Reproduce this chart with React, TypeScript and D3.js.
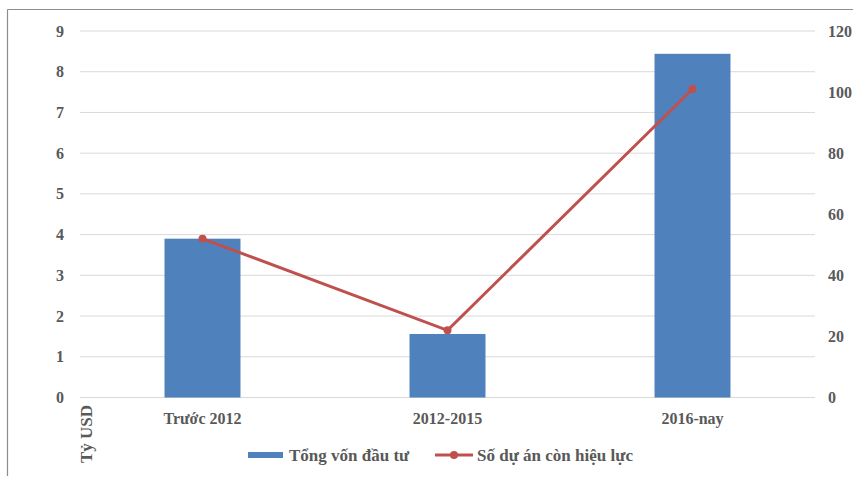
import { useEffect, useRef } from "react"
import * as d3 from "d3"

const categories = ["Trước 2012", "2012-2015", "2016-nay"]
const capital = [3.9, 1.56, 8.44] // Tỷ USD
const projects = [52, 22, 101]
const leftTicks = [0, 1, 2, 3, 4, 5, 6, 7, 8, 9]
const rightTicks = [0, 20, 40, 60, 80, 100, 120]
const seriesNames = ["Tổng vốn đầu tư", "Số dự án còn hiệu lực"]

const BAR = "#4F81BD"
const LINE = "#C0504D"
const TEXT = "#595959"
const FONT = "'Liberation Serif', 'Times New Roman', serif"

const App = () => {
  const svgRef = useRef<SVGSVGElement | null>(null)

  useEffect(() => {
    if (!svgRef.current) return
    const svg = d3.select(svgRef.current)
    svg.selectAll("*").remove()

    const width = 853
    const height = 477
    const margin = { top: 31, right: 38, bottom: 79.5, left: 80 }
    const innerWidth = width - margin.left - margin.right
    const innerHeight = height - margin.top - margin.bottom

    // Outer frame (left and top edges visible)
    svg.append("line").attr("x1", 7.5).attr("x2", 7.5).attr("y1", 9.5).attr("y2", 476)
      .attr("stroke", "#8c8c8c").attr("stroke-width", 1.2)
    svg.append("line").attr("x1", 7.5).attr("x2", width).attr("y1", 9.5).attr("y2", 9.5)
      .attr("stroke", "#8c8c8c").attr("stroke-width", 1.2)

    const x = d3.scaleBand<string>().domain(categories).range([0, innerWidth]).paddingInner(0.69).paddingOuter(0.345)
    const yLeft = d3.scaleLinear().domain([0, 9]).range([innerHeight, 0])
    const yRight = d3.scaleLinear().domain([0, 120]).range([innerHeight, 0])

    const g = svg.append("g").attr("transform", `translate(${margin.left},${margin.top})`)

    // Grid lines
    g.selectAll(".grid")
      .data(leftTicks)
      .join("line")
      .attr("x1", 0)
      .attr("x2", innerWidth)
      .attr("y1", (d) => yLeft(d))
      .attr("y2", (d) => yLeft(d))
      .attr("stroke", "#d9d9d9")
      .attr("stroke-width", 1)

    // Left axis labels
    g.selectAll(".ltick")
      .data(leftTicks)
      .join("text")
      .attr("x", -16)
      .attr("y", (d) => yLeft(d))
      .attr("dy", "0.35em")
      .attr("text-anchor", "end")
      .attr("font-family", FONT)
      .attr("font-weight", "bold")
      .attr("font-size", 16)
      .attr("fill", TEXT)
      .text((d) => d)

    // Right axis labels
    g.selectAll(".rtick")
      .data(rightTicks)
      .join("text")
      .attr("x", innerWidth + 13)
      .attr("y", (d) => yRight(d))
      .attr("dy", "0.35em")
      .attr("text-anchor", "start")
      .attr("font-family", FONT)
      .attr("font-weight", "bold")
      .attr("font-size", 16)
      .attr("fill", TEXT)
      .text((d) => d)

    // Bars
    g.selectAll(".bar")
      .data(categories)
      .join("rect")
      .attr("x", (d) => x(d) as number)
      .attr("y", (d, i) => yLeft(capital[i]))
      .attr("width", x.bandwidth())
      .attr("height", (d, i) => innerHeight - yLeft(capital[i]))
      .attr("fill", BAR)

    // Category labels
    g.selectAll(".cat")
      .data(categories)
      .join("text")
      .attr("x", (d) => (x(d) as number) + x.bandwidth() / 2)
      .attr("y", innerHeight + 26)
      .attr("text-anchor", "middle")
      .attr("font-family", FONT)
      .attr("font-weight", "bold")
      .attr("font-size", 16)
      .attr("fill", TEXT)
      .text((d) => d)

    // Line series
    const pts = categories.map((c, i) => [(x(c) as number) + x.bandwidth() / 2, yRight(projects[i])] as [number, number])
    g.append("path")
      .attr("d", d3.line()(pts))
      .attr("fill", "none")
      .attr("stroke", LINE)
      .attr("stroke-width", 3)
    g.selectAll(".pt")
      .data(pts)
      .join("circle")
      .attr("cx", (d) => d[0])
      .attr("cy", (d) => d[1])
      .attr("r", 4)
      .attr("fill", LINE)

    // Axis title
    svg.append("text")
      .attr("transform", `translate(92,405) rotate(-90)`)
      .attr("text-anchor", "end")
      .attr("font-family", FONT)
      .attr("font-weight", "bold")
      .attr("font-size", 17)
      .attr("fill", TEXT)
      .text("Tỷ USD")

    // Legend
    const ly = 455
    svg.append("rect").attr("x", 248).attr("y", ly - 3).attr("width", 35).attr("height", 6).attr("fill", BAR)
    svg.append("text")
      .attr("x", 289).attr("y", ly).attr("dy", "0.35em")
      .attr("font-family", FONT).attr("font-weight", "bold").attr("font-size", 17).attr("fill", TEXT)
      .text(seriesNames[0])
    svg.append("line").attr("x1", 435).attr("x2", 473).attr("y1", ly).attr("y2", ly)
      .attr("stroke", LINE).attr("stroke-width", 3)
    svg.append("circle").attr("cx", 454).attr("cy", ly).attr("r", 4).attr("fill", LINE)
    svg.append("text")
      .attr("x", 477).attr("y", ly).attr("dy", "0.35em")
      .attr("font-family", FONT).attr("font-weight", "bold").attr("font-size", 17).attr("fill", TEXT)
      .text(seriesNames[1])
  }, [])

  return (
    <svg
      ref={svgRef}
      width={853}
      height={477}
      style={{ position: "absolute", left: 0, top: 0, background: "#fff" }}
    />
  )
}

export default App
